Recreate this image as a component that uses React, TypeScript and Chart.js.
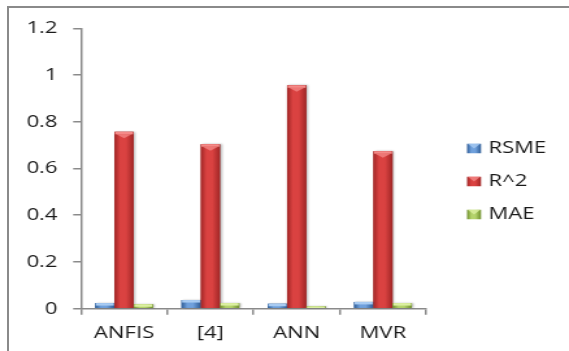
import { useEffect, useRef } from "react";
import { Chart, registerables } from "chart.js";

Chart.register(...registerables);

// Error metrics per method
const methods = ["ANFIS", "[4]", "ANN", "MVR"];
const seriesNames = ["RSME", "R^2", "MAE"];
const rsme = [0.024, 0.037, 0.021, 0.029];
const rSquared = [0.757, 0.704, 0.956, 0.674];
const mae = [0.019, 0.024, 0.01, 0.024];
const yTicks = [0, 0.2, 0.4, 0.6, 0.8, 1, 1.2];

// Office-style shaded fills for each series
const shades = [
  { base: "#4F81BD", dark: "#2E5C96", light: "#6FA0DC", top: "#A8CBF2" },
  { base: "#C0504D", dark: "#A02626", light: "#DA4241", top: "#F48A88" },
  { base: "#9BBB59", dark: "#6E8E2C", light: "#B4D36C", top: "#DCF0A2" },
];

const FONT = "'Open Sans', 'Liberation Sans', sans-serif";
const TEXT = "#1a1a1a";
const AXIS = "#8a8a8a";
const INNER_W = 438;
const OUTER_W = 569;
const H = 351;

function bodyGradient(ctx: CanvasRenderingContext2D, left: number, right: number, s: typeof shades[number]) {
  const g = ctx.createLinearGradient(left, 0, right, 0);
  g.addColorStop(0, s.dark);
  g.addColorStop(0.3, s.light);
  g.addColorStop(0.6, s.light);
  g.addColorStop(1, s.dark);
  return g;
}

// Repaints each bar with a bevelled, shaded look
const bevelBars = {
  id: "bevelBars",
  afterDatasetsDraw(chart: Chart) {
    const ctx = chart.ctx;
    chart.data.datasets.forEach((_, i) => {
      const meta = chart.getDatasetMeta(i);
      const s = shades[i];
      meta.data.forEach((el: any) => {
        const { x, y, base, width } = el.getProps(["x", "y", "base", "width"], true);
        const left = x - width / 2;
        const right = x + width / 2;
        const top = Math.min(y, base);
        const h = Math.abs(base - y);
        ctx.save();
        ctx.shadowColor = "rgba(0,0,0,0.28)";
        ctx.shadowBlur = 2;
        ctx.shadowOffsetX = 1.2;
        ctx.fillStyle = bodyGradient(ctx, left, right, s);
        ctx.fillRect(left, top, width, h);
        ctx.restore();
        ctx.save();
        const cap = Math.min(2.5, h);
        ctx.fillStyle = s.top;
        ctx.fillRect(left + 0.5, top, width - 1, cap);
        if (h > 10) {
          ctx.globalAlpha = 0.75;
          ctx.beginPath();
          ctx.moveTo(left + 1.5, top + cap);
          ctx.lineTo(right - 1.5, top + cap);
          ctx.lineTo(x, top + cap + 4);
          ctx.closePath();
          ctx.fill();
        }
        ctx.restore();
      });
    });
  },
};

// Legend on the right with shaded swatches
const sideLegend = {
  id: "sideLegend",
  afterDraw(chart: Chart) {
    const ctx = chart.ctx;
    const area = chart.chartArea;
    const x0 = area.right + 31.5;
    const y0 = 148.5;
    const step = 33;
    ctx.save();
    chart.data.datasets.forEach((ds, i) => {
      const s = shades[i];
      const cy = y0 + i * step;
      const gw = 10.8;
      const gh = 9.5;
      ctx.fillStyle = bodyGradient(ctx, x0, x0 + gw, s);
      ctx.fillRect(x0, cy - gh / 2, gw, gh);
      ctx.fillStyle = s.top;
      ctx.globalAlpha = 0.8;
      ctx.beginPath();
      ctx.moveTo(x0 + 0.5, cy - gh / 2);
      ctx.lineTo(x0 + gw - 0.5, cy - gh / 2);
      ctx.lineTo(x0 + gw / 2, cy);
      ctx.closePath();
      ctx.fill();
      ctx.globalAlpha = 1;
      ctx.fillStyle = TEXT;
      ctx.font = `17px ${FONT}`;
      ctx.textBaseline = "middle";
      ctx.textAlign = "left";
      ctx.fillText(String(ds.label), x0 + 16.5, cy);
    });
    ctx.restore();
  },
};

export default function App() {
  const canvasRef = useRef<HTMLCanvasElement | null>(null);

  useEffect(() => {
    const canvas = canvasRef.current;
    if (!canvas) return;
    const series = [rsme, rSquared, mae];
    const chart = new Chart(canvas, {
      type: "bar",
      data: {
        labels: methods,
        datasets: series.map((values, i) => ({
          label: seriesNames[i],
          data: values,
          backgroundColor: shades[i].base,
          borderWidth: 0,
          barPercentage: 1,
          categoryPercentage: 0.67,
        })),
      },
      options: {
        animation: false,
        responsive: true,
        maintainAspectRatio: false,
        events: [],
        layout: { padding: { top: 28.3, right: 110, bottom: 0, left: 0 } },
        plugins: {
          legend: { display: false },
          tooltip: { enabled: false },
        },
        scales: {
          x: {
            grid: {
              display: true,
              drawOnChartArea: false,
              tickLength: 6,
              color: AXIS,
              lineWidth: 1.5,
            },
            border: { color: AXIS, width: 1.5 },
            ticks: {
              color: TEXT,
              font: { family: FONT, size: 17 },
              padding: 8,
            },
            afterFit: (s: any) => {
              s.height = 42.3;
            },
          },
          y: {
            min: 0,
            max: 1.2,
            afterBuildTicks: (s: any) => {
              s.ticks = yTicks.map((v) => ({ value: v }));
            },
            grid: {
              display: true,
              drawOnChartArea: false,
              tickLength: 6,
              color: AXIS,
              lineWidth: 1.5,
            },
            border: { color: AXIS, width: 1.5 },
            ticks: {
              color: TEXT,
              font: { family: FONT, size: 17 },
              padding: 12,
              callback: (v: any) => String(Math.round(Number(v) * 10) / 10),
            },
            afterFit: (s: any) => {
              s.width = 62.3;
            },
          },
        },
      },
      plugins: [bevelBars, sideLegend],
    });
    return () => chart.destroy();
  }, []);

  return (
    <div
      style={{
        position: "fixed",
        left: 0,
        top: 0,
        width: OUTER_W,
        height: H,
        overflow: "hidden",
        background: "#fff",
      }}
    >
      <div
        style={{
          position: "absolute",
          left: 7,
          top: 6,
          width: 800,
          height: 600,
          borderLeft: `2px solid ${AXIS}`,
          borderTop: `2px solid ${AXIS}`,
        }}
      />
      <div
        style={{
          position: "absolute",
          left: 0,
          top: 0,
          width: INNER_W,
          height: H,
          transform: `scaleX(${OUTER_W / INNER_W})`,
          transformOrigin: "0 0",
        }}
      >
        <canvas ref={canvasRef} />
      </div>
    </div>
  );
}
